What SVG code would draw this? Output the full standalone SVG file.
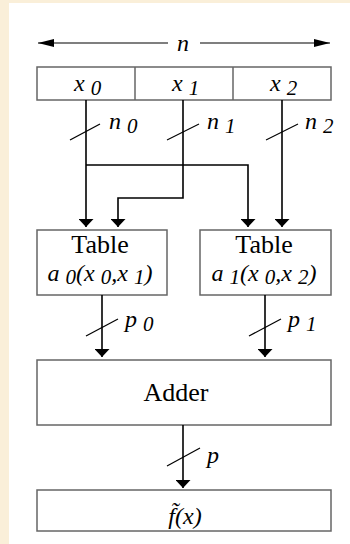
<svg xmlns="http://www.w3.org/2000/svg" width="350" height="544" viewBox="0 0 350 544">
<style>
.box{fill:#fff;stroke:#666;stroke-width:1.5}
.wire{fill:none;stroke:#000;stroke-width:1.6}
.slash{fill:none;stroke:#000;stroke-width:1.2}
.t{font-family:"Liberation Serif",serif;font-size:26px;fill:#000;text-anchor:middle}
.i{font-family:"Liberation Serif",serif;font-style:italic;font-size:24px;fill:#000}
.s{font-size:21px}
</style>
<defs>
<marker id="ah" viewBox="0 0 10 10" refX="10" refY="5" markerWidth="8" markerHeight="15" markerUnits="userSpaceOnUse" orient="auto" preserveAspectRatio="none">
<path d="M0,0 L10,5 L0,10 Z" fill="#000"/>
</marker>
<marker id="ahn" viewBox="0 0 10 10" refX="10" refY="5" markerWidth="16" markerHeight="8" markerUnits="userSpaceOnUse" orient="auto-start-reverse" preserveAspectRatio="none">
<path d="M0,0 L10,5 L0,10 Z" fill="#000"/>
</marker>
</defs>
<rect x="0" y="0" width="350" height="544" fill="#FAEFD9"/>
<rect x="9" y="3" width="341" height="541" fill="#fff"/>

<g id="width-n">
<line x1="38" y1="43" x2="168" y2="43" stroke="#000" stroke-width="1.2" marker-start="url(#ahn)"/>
<line x1="200" y1="43" x2="330" y2="43" stroke="#000" stroke-width="1.2" marker-end="url(#ahn)"/>
<text class="i" x="183" y="51" text-anchor="middle">n</text>
</g>

<g id="register">
<rect class="box" x="37" y="67" width="294" height="33"/>
<line x1="135" y1="67" x2="135" y2="100" stroke="#666" stroke-width="1.5"/>
<line x1="233" y1="67" x2="233" y2="100" stroke="#666" stroke-width="1.5"/>
<text class="i" x="74" y="91">x <tspan class="s" dy="4">0</tspan></text>
<text class="i" x="172" y="91">x <tspan class="s" dy="4">1</tspan></text>
<text class="i" x="270" y="91">x <tspan class="s" dy="4">2</tspan></text>
</g>

<g id="table0">
<rect class="box" x="37" y="230" width="130" height="65"/>
<text class="t" x="100" y="253">Table</text>
<text class="i" x="100" y="281" text-anchor="middle">a <tspan class="s" dy="3">0</tspan><tspan dy="-3">(x </tspan><tspan class="s" dy="3">0</tspan><tspan dy="-3">,x </tspan><tspan class="s" dy="3">1</tspan><tspan dy="-3">)</tspan></text>
</g>

<g id="table1">
<rect class="box" x="200" y="230" width="131" height="65"/>
<text class="t" x="264" y="253">Table</text>
<text class="i" x="264" y="281" text-anchor="middle">a <tspan class="s" dy="3">1</tspan><tspan dy="-3">(x </tspan><tspan class="s" dy="3">0</tspan><tspan dy="-3">,x </tspan><tspan class="s" dy="3">2</tspan><tspan dy="-3">)</tspan></text>
</g>

<g id="adder">
<rect class="box" x="37" y="360" width="294" height="65"/>
<text class="t" x="176" y="401">Adder</text>
</g>

<g id="result">
<rect class="box" x="37" y="490" width="294" height="41"/>
<text class="i" x="185" y="524" text-anchor="middle">f̃(x)</text>
</g>

<g id="connectors">
<path class="wire" d="M86,100 V227" marker-end="url(#ah)"/>
<path class="wire" d="M86,165 H248 V227" marker-end="url(#ah)"/>
<path class="wire" d="M183,100 V198 H118 V227" marker-end="url(#ah)"/>
<path class="wire" d="M282,100 V227" marker-end="url(#ah)"/>
<path class="wire" d="M102,295 V357" marker-end="url(#ah)"/>
<path class="wire" d="M265,295 V357" marker-end="url(#ah)"/>
<path class="wire" d="M183,425 V488" marker-end="url(#ah)"/>
<line class="slash" x1="70" y1="140" x2="100" y2="124"/>
<line class="slash" x1="167" y1="140" x2="199" y2="124"/>
<line class="slash" x1="266" y1="140" x2="298" y2="124"/>
<line class="slash" x1="86" y1="336" x2="118" y2="319"/>
<line class="slash" x1="249" y1="336" x2="281" y2="319"/>
<line class="slash" x1="167" y1="466" x2="200" y2="448"/>
<text class="i" x="109" y="129">n <tspan class="s" dy="4">0</tspan></text>
<text class="i" x="207" y="129">n <tspan class="s" dy="4">1</tspan></text>
<text class="i" x="305" y="129">n <tspan class="s" dy="4">2</tspan></text>
<text class="i" x="125" y="327">p <tspan class="s" dy="4">0</tspan></text>
<text class="i" x="288" y="327">p <tspan class="s" dy="4">1</tspan></text>
<text class="i" x="207" y="463">p</text>
</g>
</svg>
